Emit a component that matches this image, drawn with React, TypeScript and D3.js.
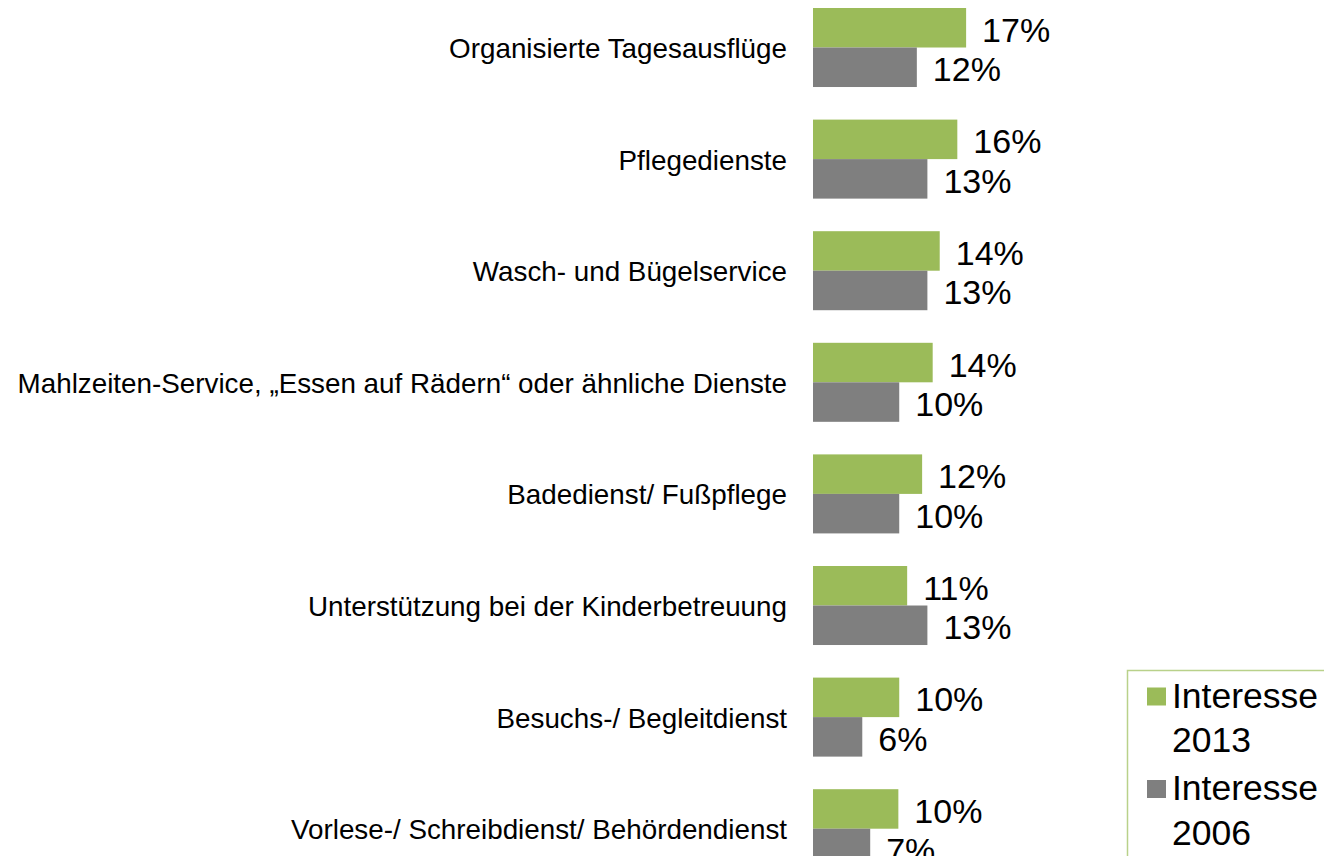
import React from "react";
import * as d3 from "d3";

const categories = [
  "Organisierte Tagesausflüge",
  "Pflegedienste",
  "Wasch- und Bügelservice",
  "Mahlzeiten-Service, „Essen auf Rädern“ oder ähnliche Dienste",
  "Badedienst/ Fußpflege",
  "Unterstützung bei der Kinderbetreuung",
  "Besuchs-/ Begleitdienst",
  "Vorlese-/ Schreibdienst/ Behördendienst",
];
const values2013 = [17.4, 16.4, 14.4, 13.6, 12.4, 10.7, 9.8, 9.7];
const values2006 = [11.8, 13.0, 13.0, 9.8, 9.8, 13.0, 5.6, 6.5];
const seriesNames = ["Interesse 2013", "Interesse 2006"];
const legendLines = [["Interesse", "2013"], ["Interesse", "2006"]];
const colors = ["#9BBB59", "#7F7F7F"];

const W = 1324;
const H = 856;
const FONT = "'Liberation Sans', Arial, Helvetica, sans-serif";

export default function App() {
  const x = d3.scaleLinear().domain([0, 50]).range([813, 813 + 440]);
  const pad = 0.292;
  const step = 111.6;
  const r0 = 8 - pad * step;
  const y = d3
    .scaleBand<string>()
    .domain(categories)
    .range([r0, r0 + step * (categories.length + pad)])
    .paddingInner(pad)
    .paddingOuter(pad);
  const inner = d3
    .scaleBand<string>()
    .domain(seriesNames)
    .range([0, y.bandwidth()]);
  const series = [values2013, values2006];
  const fmt = (v: number) => `${Math.round(v)}%`;

  return (
    <svg
      width={W}
      height={H}
      style={{ position: "absolute", left: 0, top: 0, background: "#fff" }}
      fontFamily={FONT}
    >
      <rect x={0} y={0} width={W} height={H} fill="#fff" />
      {categories.map((c, i) => {
        const y0 = y(c)!;
        return (
          <g key={c}>
            <text
              x={x(0) - 26}
              y={y0 + y.bandwidth() / 2 + 1}
              textAnchor="end"
              dominantBaseline="central"
              fontSize={27.8}
              fill="#000"
            >
              {c}
            </text>
            {series.map((vals, s) => {
              const by = y0 + inner(seriesNames[s])!;
              const v = vals[i];
              return (
                <g key={s}>
                  <rect
                    x={x(0)}
                    y={by}
                    width={x(v) - x(0)}
                    height={inner.bandwidth()}
                    fill={colors[s]}
                  />
                  <text
                    x={x(v) + 16}
                    y={by + inner.bandwidth() / 2 + 2}
                    dominantBaseline="central"
                    fontSize={34}
                    fill="#000"
                  >
                    {fmt(v)}
                  </text>
                </g>
              );
            })}
          </g>
        );
      })}
      <g>
        <rect
          x={1127.5}
          y={670.5}
          width={260}
          height={220}
          fill="#fff"
          stroke="#B9D18A"
          strokeWidth={1.5}
        />
        {legendLines.map((lines, s) => {
          const base = 707.5 + s * 92.5;
          return (
            <g key={s}>
              <rect x={1147} y={base - 20} width={19} height={18} fill={colors[s]} />
              <text x={1172} y={base} fontSize={35.5} fill="#000">
                {lines[0]}
              </text>
              <text x={1172} y={base + 44.5} fontSize={35.5} fill="#000">
                {lines[1]}
              </text>
            </g>
          );
        })}
      </g>
    </svg>
  );
}
